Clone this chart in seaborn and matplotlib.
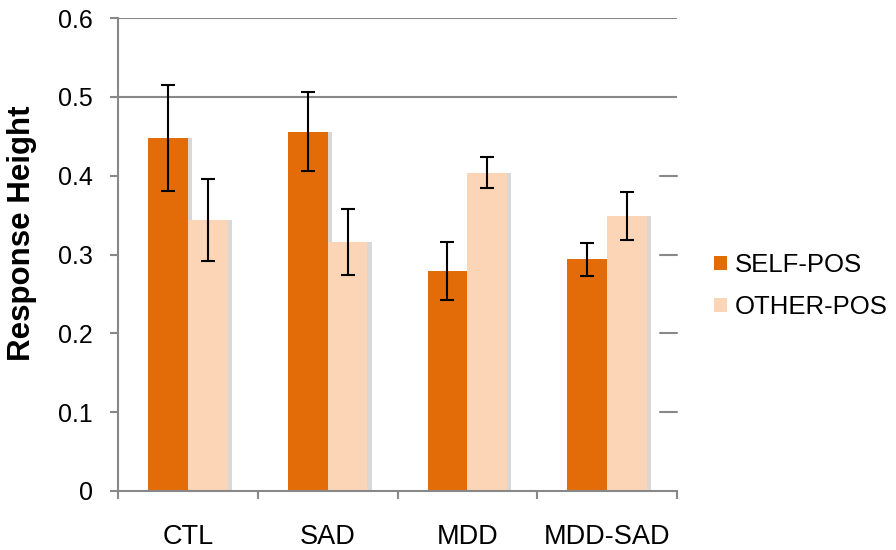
import matplotlib
matplotlib.use("Agg")
import matplotlib.pyplot as plt
import matplotlib.patheffects as pe
import matplotlib.transforms as mtransforms
from matplotlib.patches import Patch
import seaborn as sns
import pandas as pd

groups = ["CTL", "SAD", "MDD", "MDD-SAD"]
series = ["SELF-POS", "OTHER-POS"]
self_pos = [0.448, 0.456, 0.279, 0.294]
other_pos = [0.344, 0.316, 0.404, 0.349]
self_err = [0.067, 0.050, 0.037, 0.021]
other_err = [0.052, 0.042, 0.020, 0.030]
y_ticks = [0, 0.1, 0.2, 0.3, 0.4, 0.5, 0.6]
y_tick_labels = ["0", "0.1", "0.2", "0.3", "0.4", "0.5", "0.6"]
colors = ["#E36C09", "#FBD5B5"]

df = pd.DataFrame({
    "group": groups * 2,
    "series": [series[0]] * 4 + [series[1]] * 4,
    "value": self_pos + other_pos,
})

sns.set_style("white")
plt.rcParams["font.family"] = ["Liberation Sans", "DejaVu Sans"]
plt.rcParams["text.color"] = "black"
plt.rcParams["axes.labelcolor"] = "black"
plt.rcParams["xtick.labelcolor"] = "black"
plt.rcParams["ytick.labelcolor"] = "black"

fig = plt.figure(figsize=(8.96, 5.5), dpi=100)
ax = fig.add_axes([118 / 896, 1 - 491 / 550, 559 / 896, 473 / 550])

grid_c = "#888888"
for yv in [0.5, 0.6]:
    ax.axhline(yv, color=grid_c, lw=1.5, zorder=0)
trans = mtransforms.blended_transform_factory(ax.transAxes, ax.transData)
for yv in [0.1, 0.2, 0.3, 0.4]:
    ax.plot([0.97, 1.0], [yv, yv], color=grid_c, lw=1.5, transform=trans,
            clip_on=False, zorder=0)

sns.barplot(data=df, x="group", y="value", hue="series", order=groups,
            hue_order=series, palette=colors, width=0.57, errorbar=None,
            saturation=1, ax=ax, legend=False, zorder=2)

shadow = [pe.SimplePatchShadow(offset=(3, 0), shadow_rgbFace="#808080", alpha=0.3),
          pe.Normal()]
for p in ax.patches:
    p.set_linewidth(0)
    p.set_path_effects(shadow)

for cont, errs in zip(ax.containers, [self_err, other_err]):
    xs = [b.get_x() + b.get_width() / 2 for b in cont]
    ys = [b.get_height() for b in cont]
    ax.errorbar(xs, ys, yerr=errs, fmt="none", ecolor="black", elinewidth=1.5,
                capsize=5, capthick=1.5, zorder=5)

ax.set_ylim(0, 0.6)
ax.set_xlim(-0.5, 3.5)
ax.set_yticks(y_ticks)
ax.set_yticklabels(y_tick_labels)
ax.set_xticks(range(len(groups)))
ax.set_xticklabels(groups)
ax.set_xticks([-0.5, 0.5, 1.5, 2.5, 3.5], minor=True)

for s in ["top", "right"]:
    ax.spines[s].set_visible(False)
for s in ["left", "bottom"]:
    ax.spines[s].set_color(grid_c)
    ax.spines[s].set_linewidth(1.5)

ax.tick_params(axis="y", which="major", length=6, width=1.5, color=grid_c,
               direction="out", left=True, labelsize=18, pad=12, labelcolor="black")
ax.tick_params(axis="x", which="major", length=0, labelsize=19.5, pad=24,
               labelcolor="black")
ax.tick_params(axis="x", which="minor", length=6, width=1.5, color=grid_c,
               direction="out", bottom=True)
ax.set_xlabel("")
ax.set_ylabel("Response Height", fontsize=22.5, fontweight="bold", color="black")
ax.yaxis.set_label_coords(-0.145, 0.545)

handles = [Patch(facecolor=c, edgecolor="none", label=l) for c, l in zip(colors, series)]
fig.legend(handles=handles, loc="center left", bbox_to_anchor=(714 / 896, 1 - 286 / 550),
           frameon=False, fontsize=18.5, handlelength=0.5, handleheight=0.5,
           handletextpad=0.3, labelspacing=0.7, borderpad=0, borderaxespad=0,
           labelcolor="black")

fig.savefig("out.png", dpi=100)
